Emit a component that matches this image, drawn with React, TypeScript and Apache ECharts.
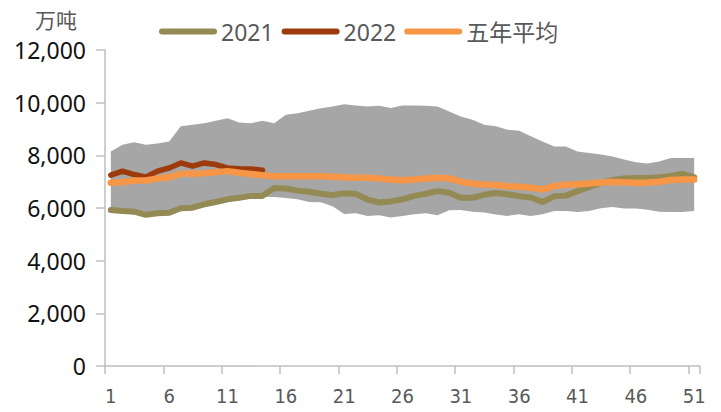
import React, { useEffect, useRef } from "react";
import * as echarts from "echarts";

const weeks = ["1","2","3","4","5","6","7","8","9","10","11","12","13","14","15","16","17","18","19","20","21","22","23","24","25","26","27","28","29","30","31","32","33","34","35","36","37","38","39","40","41","42","43","44","45","46","47","48","49","50","51"];

const max5 = [8150, 8400, 8500, 8400, 8450, 8530, 9100, 9160, 9220, 9310, 9410, 9250, 9220, 9310, 9220, 9540, 9600, 9690, 9790, 9850, 9940, 9890, 9850, 9880, 9800, 9890, 9890, 9880, 9850, 9660, 9470, 9350, 9160, 9100, 8970, 8930, 8720, 8530, 8340, 8340, 8150, 8090, 8030, 7960, 7840, 7740, 7690, 7770, 7900, 7900, 7900];

const min5 = [5880, 5850, 5820, 5720, 5770, 5790, 5950, 5980, 6110, 6190, 6290, 6360, 6430, 6430, 6420, 6380, 6330, 6230, 6220, 6070, 5770, 5800, 5700, 5720, 5640, 5700, 5760, 5800, 5720, 5910, 5920, 5860, 5830, 5750, 5700, 5760, 5700, 5760, 5890, 5890, 5850, 5890, 5990, 6040, 5980, 5980, 5930, 5860, 5850, 5850, 5890];

const y2021 = [5925, 5890, 5860, 5740, 5800, 5820, 5990, 6010, 6140, 6230, 6330, 6390, 6460, 6460, 6760, 6740, 6660, 6620, 6540, 6490, 6560, 6530, 6320, 6210, 6250, 6330, 6460, 6540, 6640, 6580, 6390, 6390, 6500, 6570, 6520, 6450, 6400, 6230, 6450, 6470, 6640, 6800, 6950, 7060, 7120, 7140, 7140, 7170, 7220, 7300, 7170];

const y2022 = [7250, 7400, 7270, 7170, 7400, 7520, 7710, 7590, 7710, 7650, 7520, 7490, 7480, 7430];

const avg5 = [6960, 6990, 7045, 7045, 7120, 7170, 7300, 7300, 7320, 7360, 7400, 7340, 7290, 7240, 7210, 7210, 7210, 7210, 7210, 7190, 7170, 7150, 7150, 7120, 7080, 7050, 7080, 7120, 7150, 7120, 7000, 6920, 6890, 6870, 6830, 6810, 6770, 6700, 6830, 6880, 6900, 6930, 6970, 6990, 6980, 6960, 6970, 7000, 7060, 7080, 7080];

const yTicks = { min: 0, max: 12000, interval: 2000 };

const C2021 = "#948A54";
const C2022 = "#9E3B0C";
const CAVG = "#F79646";
const CBAND = "#A6A6A6";
const AXIS = "#BFBFBF";

const pill = "path://M3,0 L55,0 A3,3 0 0 1 55,6 L3,6 A3,3 0 0 1 3,0 Z";

export default function App() {
  const ref = useRef<HTMLDivElement>(null);
  useEffect(() => {
    if (!ref.current) return;
    const chart = echarts.init(ref.current, null, { renderer: "svg" });
    const range = max5.map((v, i) => v - min5[i]);
    const lineCommon = {
      type: "line",
      showSymbol: false,
      symbol: "none",
      smooth: false,
    };
    chart.setOption({
      animation: false,
      backgroundColor: "#ffffff",
      textStyle: { fontFamily: "'Noto Sans', 'Open Sans', sans-serif" },
      grid: { left: 105, right: 21, top: 50, bottom: 46 },
      legend: {
        data: ["2021", "2022", "五年平均"],
        left: 154,
        top: 15,
        itemWidth: 58,
        itemHeight: 6,
        itemGap: 8,
        icon: pill,
        textStyle: {
          color: "#595959",
          fontSize: 23,
          fontFamily: "'Noto Sans', 'Noto Sans CJK SC', sans-serif",
          padding: [0, 0, 0, -1],
        },
      },
      graphic: [
        {
          type: "text",
          left: 35,
          top: 8,
          style: {
            text: "万吨",
            fill: "#595959",
            fontSize: 21,
            fontFamily: "'Noto Sans CJK SC', sans-serif",
          },
        },
      ],
      xAxis: {
        type: "category",
        data: weeks,
        boundaryGap: true,
        axisLine: { show: true, lineStyle: { color: AXIS, width: 1.5 } },
        axisTick: {
          show: true,
          interval: 4,
          alignWithLabel: false,
          length: 8,
          lineStyle: { color: AXIS, width: 1.5 },
        },
        axisLabel: {
          interval: 4,
          margin: 20,
          color: "#595959",
          fontSize: 20,
          fontFamily: "'Liberation Sans Narrow', 'DejaVu Sans Condensed', 'Noto Sans', sans-serif",
        },
        splitLine: { show: false },
      },
      yAxis: {
        type: "value",
        min: yTicks.min,
        max: yTicks.max,
        interval: yTicks.interval,
        axisLine: { show: true, lineStyle: { color: AXIS, width: 1.5 } },
        axisTick: { show: true, length: 9, lineStyle: { color: AXIS, width: 1.5 } },
        axisLabel: {
          margin: 19,
          color: "#111111",
          fontSize: 23,
          formatter: (v: number) => v.toLocaleString("en-US"),
        },
        splitLine: { show: false },
      },
      series: [
        {
          ...lineCommon,
          name: "min",
          data: min5,
          stack: "band",
          lineStyle: { opacity: 0, width: 0 },
          silent: true,
        },
        {
          ...lineCommon,
          name: "range",
          data: range,
          stack: "band",
          lineStyle: { opacity: 0, width: 0 },
          areaStyle: { color: CBAND, opacity: 1 },
          silent: true,
        },
        {
          ...lineCommon,
          name: "2021",
          data: y2021,
          color: C2021,
          lineStyle: { color: C2021, width: 6, cap: "round", join: "round" },
        },
        {
          ...lineCommon,
          name: "2022",
          data: y2022,
          color: C2022,
          lineStyle: { color: C2022, width: 5.5, cap: "round", join: "round" },
        },
        {
          ...lineCommon,
          name: "五年平均",
          data: avg5,
          color: CAVG,
          lineStyle: { color: CAVG, width: 6.5, cap: "round", join: "round" },
        },
      ],
    });
    return () => chart.dispose();
  }, []);
  return (
    <div
      ref={ref}
      style={{ position: "absolute", left: 0, top: 0, width: 721, height: 412 }}
    />
  );
}
